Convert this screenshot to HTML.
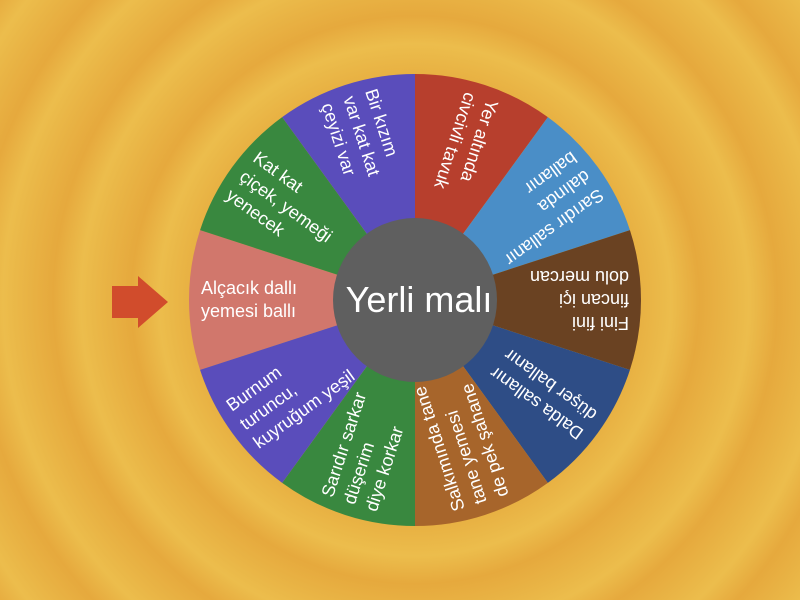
<!DOCTYPE html>
<html><head><meta charset="utf-8"><style>
html,body{margin:0;padding:0}
body{width:800px;height:600px;overflow:hidden;position:relative;font-family:"Liberation Sans",sans-serif;
background:repeating-radial-gradient(circle at 415px 300px,#e9b445 0px,#ecbd4c 22px,#e6a93d 50px,#e9b445 78px);}
.t{position:absolute;left:415px;top:300px;width:0;height:0}
.t div{position:absolute;left:-214px;top:-40px;height:80px;width:130px;display:flex;align-items:center;color:#fff;font-size:18px;line-height:23px;white-space:nowrap}
</style></head><body>
<svg width="800" height="600" style="position:absolute;left:0;top:0">
<g id="w"></g>
<circle cx="415" cy="300" r="82" fill="#5f5f5f"/>
<text x="419" y="312" font-size="36" fill="#fff" text-anchor="middle" font-family="Liberation Sans, sans-serif">Yerli malı</text>
<polygon points="112,286 138,286 138,276 168,302 138,328 138,318 112,318" fill="#d14c2c"/>
</svg>
<script>
var cols=[["#d1776c",180],["#39883f",216],["#5a4dbb",252],["#b73f2d",288],["#4a8ec7",324],["#6a4222",0],["#2e4d86",36],["#a7652b",72],["#39883f",108],["#5a4dbb",144]];
var g=document.getElementById('w'),s='';
cols.forEach(function(c){var a1=(c[1]-18)*Math.PI/180,a2=(c[1]+18)*Math.PI/180,R=226;
s+='<path d="M415 300 L'+(415+R*Math.cos(a1))+' '+(300+R*Math.sin(a1))+' A'+R+' '+R+' 0 0 1 '+(415+R*Math.cos(a2))+' '+(300+R*Math.sin(a2))+' Z" fill="'+c[0]+'"/>';});
g.innerHTML=s;
</script>
<div class="t" style="transform:rotate(0deg)"><div>Alçacık dallı<br>yemesi ballı</div></div>
<div class="t" style="transform:rotate(36deg)"><div>Kat kat<br>çiçek, yemeği<br>yenecek</div></div>
<div class="t" style="transform:rotate(72deg)"><div>Bir kızım<br>var kat kat<br>çeyizi var</div></div>
<div class="t" style="transform:rotate(108deg)"><div>Yer altında<br>civcivli tavuk</div></div>
<div class="t" style="transform:rotate(144deg)"><div>Sarıdır sallanır<br>dalında<br>ballanır</div></div>
<div class="t" style="transform:rotate(180deg)"><div>Fini fini<br>fincan içi<br>dolu mercan</div></div>
<div class="t" style="transform:rotate(216deg)"><div>Dalda sallanır<br>düşer ballanır</div></div>
<div class="t" style="transform:rotate(252deg)"><div>Salkımında tane<br>tane yemesi<br>de pek şahane</div></div>
<div class="t" style="transform:rotate(288deg)"><div>Sarıdır sarkar<br>düşerim<br>diye korkar</div></div>
<div class="t" style="transform:rotate(324deg)"><div>Burnum<br>turuncu,<br>kuyruğum yeşil</div></div>
</body></html>
